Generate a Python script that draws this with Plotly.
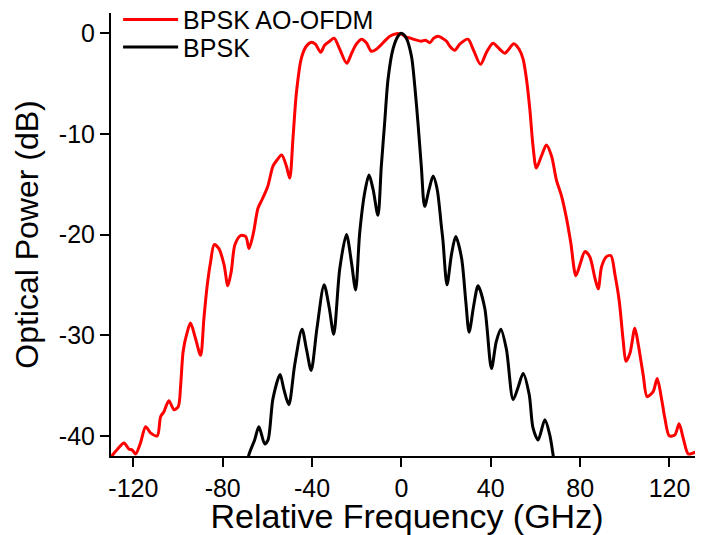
import plotly.graph_objects as go

# BPSK AO-OFDM spectrum (red)
ofdm_x = [-130.5, -129.3, -127.0, -124.2, -122.0, -120.5, -119.0, -116.8, -114.5, -112.3,
          -109.3, -107.8, -106.3, -104.1, -101.8, -99.9, -98.8, -97.7, -96.0, -94.4,
          -92.2, -89.9, -88.4, -86.9, -85.4, -83.8, -81.7, -79.4, -77.7, -76.2,
          -74.5, -72.0, -69.7, -68.2, -66.3, -64.2, -62.3, -59.8, -57.5, -56.0,
          -53.6, -51.5, -50.0, -48.5, -47.0, -44.8, -42.6, -40.3, -38.5, -36.1,
          -34.4, -32.1, -30.1, -27.6, -24.5, -22.3, -20.2, -17.9, -15.7, -13.5,
          -11.2, -8.2, -5.2, -2.2, 0.0, 2.2, 4.0, 6.0, 8.9, 10.8,
          12.7, 14.5, 16.4, 18.3, 20.2, 21.7, 23.9, 26.1, 29.8, 32.1,
          35.4, 38.1, 41.0, 44.0, 46.3, 47.7, 50.3, 52.7, 54.5, 56.0,
          57.5, 58.9, 60.4, 62.7, 64.9, 67.2, 69.4, 71.7, 73.9, 75.8,
          78.1, 80.2, 82.1, 84.3, 86.6, 88.1, 89.6, 91.8, 93.8, 95.6,
          97.5, 99.3, 100.5, 102.3, 104.5, 106.0, 108.2, 110.0, 112.7, 114.5,
          116.5, 117.9, 119.9, 122.4, 124.3, 126.1, 128.4, 130.6, 132.9, 135.0]
ofdm_y = [-42.3, -41.9, -41.3, -40.7, -41.3, -41.4, -41.8, -40.7, -39.1, -39.7,
          -40.0, -38.1, -37.6, -36.5, -37.4, -37.1, -34.9, -31.6, -29.8, -28.8,
          -30.3, -32.0, -28.3, -25.0, -22.7, -21.0, -21.4, -23.0, -25.1, -23.7,
          -21.0, -20.1, -20.2, -21.4, -19.9, -17.4, -16.5, -15.2, -13.2, -12.7,
          -12.1, -13.2, -14.4, -10.3, -5.9, -2.5, -1.3, -0.9, -1.1, -1.9,
          -1.2, -0.8, -0.5, -1.6, -3.0, -2.0, -1.1, -0.6, -0.95, -1.8,
          -1.6, -0.95, -0.3, -0.05, -0.1, -0.4, -0.5, -0.65, -0.8, -0.7,
          -0.95, -0.5, -0.3, -0.5, -0.8, -1.3, -1.7, -1.1, -0.6, -1.6,
          -3.1, -1.9, -1.0, -1.6, -2.0, -1.7, -1.05, -1.6, -2.6, -4.6,
          -7.6, -11.2, -13.4, -12.2, -11.1, -12.2, -14.6, -16.2, -18.4, -20.8,
          -24.1, -22.8, -21.7, -22.2, -24.3, -25.4, -23.2, -22.2, -22.1, -24.0,
          -26.6, -30.6, -32.6, -31.8, -29.3, -30.9, -33.9, -36.1, -35.6, -34.3,
          -36.4, -38.2, -40.0, -39.9, -38.8, -40.2, -41.8, -41.7, -41.5, -41.0]

# BPSK spectrum (black)
bpsk_x = [-69.0, -68.3, -65.7, -63.8, -61.2, -59.7, -57.5, -54.3, -52.7, -50.4,
          -47.8, -44.5, -42.5, -40.4, -37.8, -34.6, -32.3, -30.3, -27.6, -24.6,
          -22.4, -20.5, -18.7, -16.4, -14.5, -12.7, -10.5, -9.0, -7.5, -6.0,
          -3.8, -1.5, 0.0, 2.2, 4.5, 6.0, 7.4, 8.9, 10.4, 12.4,
          14.2, 16.0, 17.9, 18.6, 20.4, 22.4, 24.3, 26.9, 28.8, 30.3,
          32.4, 34.3, 37.3, 40.3, 42.5, 44.5, 47.0, 50.0, 52.2, 54.5,
          57.2, 58.9, 61.2, 64.2, 66.4, 67.9, 68.6]
bpsk_y = [-43.0, -41.9, -40.4, -39.1, -40.8, -40.4, -36.3, -33.9, -35.3, -36.9,
          -33.0, -29.4, -31.4, -33.5, -29.3, -25.0, -27.3, -29.9, -23.4, -20.0,
          -22.7, -25.5, -19.9, -15.8, -14.1, -15.5, -18.1, -13.2, -8.9, -4.6,
          -1.6, -0.3, 0.0, -0.5, -2.3, -5.3, -8.9, -13.2, -17.2, -15.5,
          -14.2, -15.5, -19.2, -20.6, -25.0, -22.0, -20.2, -22.3, -26.6, -29.7,
          -27.0, -25.1, -27.3, -33.3, -30.6, -29.4, -31.4, -36.4, -35.2, -33.8,
          -35.9, -39.2, -40.4, -38.4, -39.9, -41.9, -43.0]

x_ticks = [-120, -80, -40, 0, 40, 80, 120]
y_ticks = [0, -10, -20, -30, -40]

FONT = "Liberation Sans, Arial, sans-serif"

fig = go.Figure()
fig.add_trace(go.Scatter(x=ofdm_x, y=ofdm_y, mode="lines", name="BPSK AO-OFDM", legend="legend",
                         line=dict(color="#ff0000", width=3, shape="spline", smoothing=0.8)))
fig.add_trace(go.Scatter(x=bpsk_x, y=bpsk_y, mode="lines", name="BPSK", legend="legend2",
                         line=dict(color="#000000", width=3, shape="spline", smoothing=0.8)))

legend_common = dict(xanchor="left", yanchor="middle", font=dict(size=25, family=FONT),
                     bgcolor="rgba(0,0,0,0)", itemwidth=55)

# the page body has an 8 px margin, so the figure is 8 px smaller and margins shifted
fig.update_layout(
    width=695, height=527,
    margin=dict(l=103, r=0, t=5, b=79, autoexpand=False),
    paper_bgcolor="white", plot_bgcolor="white",
    font=dict(family=FONT, color="black"),
    showlegend=True,
    legend=dict(x=0.012, y=0.985, **legend_common),
    legend2=dict(x=0.012, y=0.9225, **legend_common),
    xaxis=dict(range=[-130, 135], tickvals=x_ticks, ticktext=[str(v) for v in x_ticks],
               automargin=False,
               showgrid=False, zeroline=False, showline=True, linecolor="black", linewidth=2,
               ticks="outside", ticklen=9, tickwidth=2, tickcolor="black",
               tickfont=dict(size=25, family=FONT),
               title=dict(text="Relative Frequency (GHz)", font=dict(size=34, family=FONT), standoff=1)),
    yaxis=dict(range=[-42, 2], tickvals=y_ticks, ticktext=[str(v) for v in y_ticks],
               automargin=False,
               showgrid=False, zeroline=False, showline=True, linecolor="black", linewidth=2,
               ticks="outside", ticklen=9, tickwidth=2, tickcolor="black",
               tickfont=dict(size=25, family=FONT),
               title=dict(text="Optical Power (dB)", font=dict(size=32, family=FONT), standoff=11)),
)

fig.write_html("out.html")
